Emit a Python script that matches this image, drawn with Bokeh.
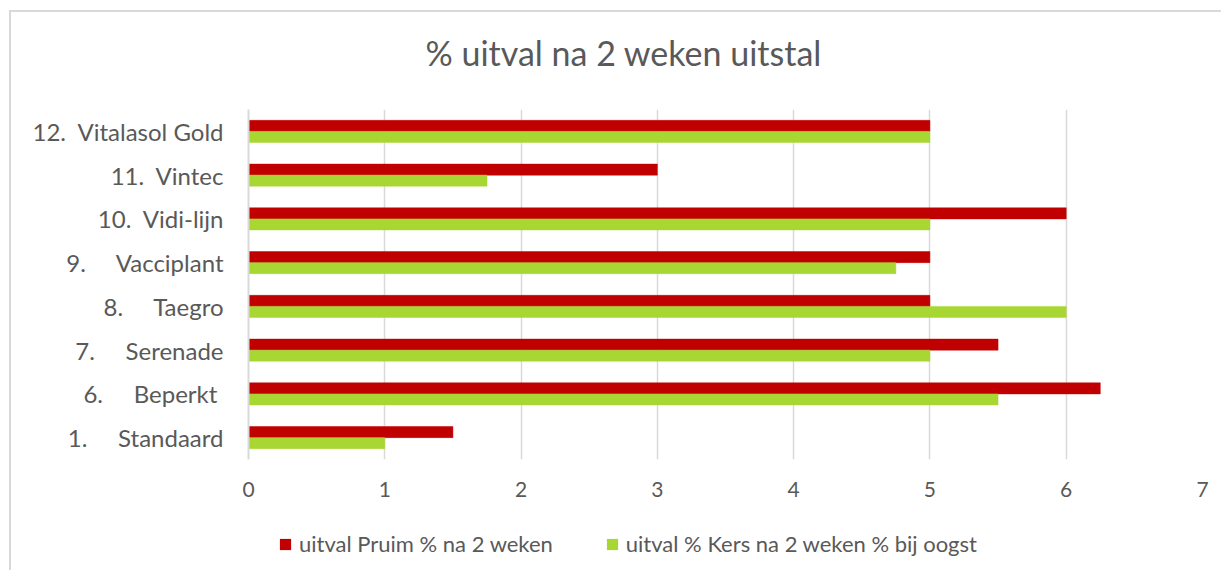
from bokeh.plotting import figure
from bokeh.models import ColumnDataSource, Range1d, FixedTicker, Legend, LegendItem, FactorRange
from bokeh.layouts import column
from bokeh.transform import dodge
from bokeh.embed import file_html
from bokeh.resources import INLINE

NB = "\u00a0"
categories = ["1." + NB * 5 + "Standaard", "6." + NB * 5 + "Beperkt" + NB,
              "7." + NB * 5 + "Serenade", "8." + NB * 5 + "Taegro",
              "9." + NB * 5 + "Vacciplant", "10." + NB * 2 + "Vidi-lijn",
              "11." + NB * 2 + "Vintec", "12." + NB * 2 + "Vitalasol Gold"]
pruim = [1.5, 6.25, 5.5, 5, 5, 6, 3, 5]
kers = [1, 5.5, 5, 6, 4.75, 5, 1.75, 5]
x_ticks = [0, 1, 2, 3, 4, 5, 6, 7]
series_names = ["uitval Pruim % na 2 weken", "uitval % Kers na 2 weken % bij oogst"]
title_text = "% uitval na 2 weken uitstal"

FONT = "Lato"
TXT = "#595959"
RED = "#C00000"
GREEN = "#A8D632"

src = ColumnDataSource(dict(cat=categories, pruim=pruim, kers=kers))

# title strip
pt = figure(width=1210, height=97, output_backend="svg", toolbar_location=None,
            x_axis_type=None, y_axis_type=None, x_range=Range1d(0, 1), y_range=Range1d(0, 1),
            min_border_left=0, min_border_right=0, min_border_top=0, min_border_bottom=0)
pt.outline_line_color = None
pt.grid.grid_line_color = None
pt.title.text = title_text
pt.title.align = "left"
pt.title.offset = 177
pt.title.text_font = FONT
pt.title.text_font_size = "34px"
pt.title.text_font_style = "normal"
pt.title.text_color = TXT
pt.title.standoff = 35

# main chart
p = figure(width=1210, height=398, output_backend="svg", toolbar_location=None,
           y_range=FactorRange(*categories, range_padding=0), x_range=Range1d(0, 7),
           min_border_left=237, min_border_right=19, min_border_top=0, min_border_bottom=48)

p.hbar(y=dodge("cat", 0.126, range=p.y_range), right="pruim", left=0, height=0.252,
       source=src, fill_color=RED, line_color=RED, line_width=0.5)
p.hbar(y=dodge("cat", -0.126, range=p.y_range), right="kers", left=0, height=0.252,
       source=src, fill_color=GREEN, line_color=GREEN, line_width=0.5)

p.xaxis.ticker = FixedTicker(ticks=x_ticks)
p.xaxis.axis_line_color = None
p.xaxis.major_tick_line_color = None
p.xaxis.minor_tick_line_color = None
p.xaxis.major_label_text_font = FONT
p.xaxis.major_label_text_font_size = "21px"
p.xaxis.major_label_text_color = TXT
p.xaxis.major_label_standoff = 16

p.yaxis.axis_line_color = "#d9d9d9"
p.yaxis.axis_line_width = 2
p.yaxis.major_tick_line_color = None
p.yaxis.minor_tick_line_color = None
p.yaxis.major_label_text_font = FONT
p.yaxis.major_label_text_font_size = "24px"
p.yaxis.major_label_text_color = TXT
p.yaxis.major_label_standoff = 19

p.xgrid.grid_line_color = "#d9d9d9"
p.xgrid.grid_line_width = 1.5
p.ygrid.grid_line_color = None
p.outline_line_color = None

# legend strip below the chart (same series, drawn outside its view window)
pl = figure(width=1210, height=63, output_backend="svg", toolbar_location=None,
            x_axis_type=None, y_axis_type=None, x_range=Range1d(-2, -1),
            y_range=FactorRange(*categories, range_padding=0),
            min_border_left=0, min_border_right=0, min_border_top=0, min_border_bottom=0)
pl.outline_line_color = None
pl.grid.grid_line_color = None
l1 = pl.hbar(y="cat", right="pruim", left=0, height=0, source=src,
             fill_color=RED, line_color=None)
l2 = pl.hbar(y="cat", right="kers", left=0, height=0, source=src,
             fill_color=GREEN, line_color=None)
legend = Legend(items=[LegendItem(label=series_names[0], renderers=[l1]),
                       LegendItem(label=series_names[1], renderers=[l2])],
                orientation="horizontal", location=(30, 13),
                glyph_width=14, glyph_height=14, label_standoff=7, spacing=52,
                padding=0, margin=0, border_line_color=None, background_fill_alpha=0,
                label_text_font=FONT, label_text_font_size="22px", label_text_color=TXT)
pl.add_layout(legend, "center")

page = column(pt, p, pl, spacing=0,
              styles={"border-left": "2px solid #d9d9d9", "border-top": "2px solid #d9d9d9",
                      "margin-left": "9px", "margin-top": "10px"})

open("out.html", "w").write(file_html(page, INLINE))
